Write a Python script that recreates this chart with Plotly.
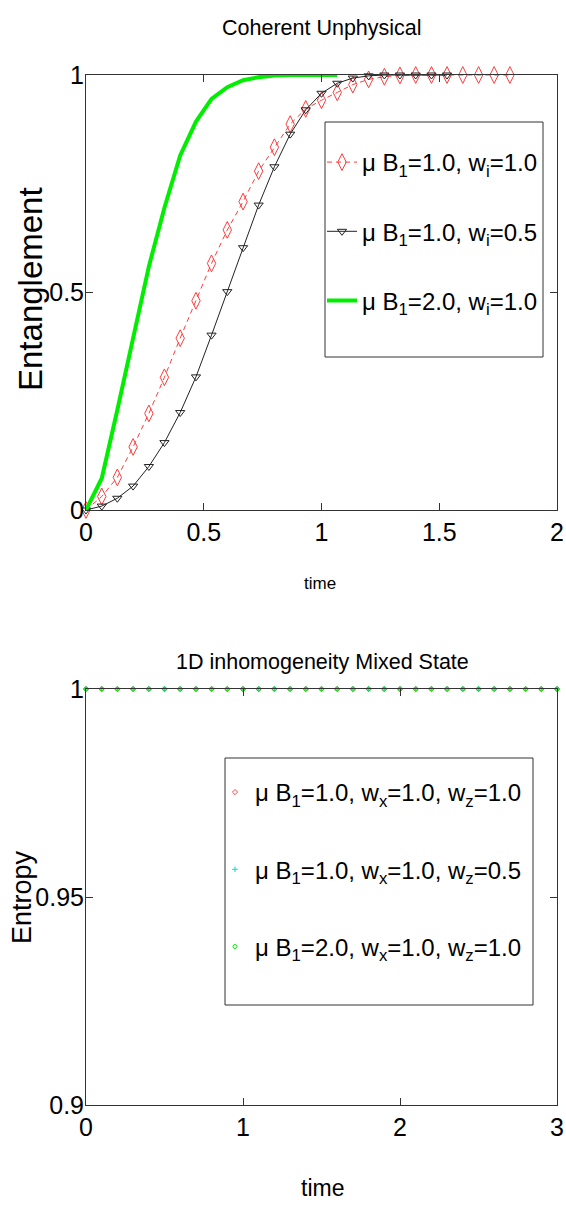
import plotly.graph_objects as go

# ---------------- data: top panel (Coherent Unphysical) ----------------
t_red = [0.0, 0.067, 0.133, 0.2, 0.267, 0.333, 0.4, 0.467, 0.533, 0.6, 0.667, 0.733, 0.8, 0.867,
         0.933, 1.0, 1.067, 1.133, 1.2, 1.267, 1.333, 1.4, 1.467, 1.533, 1.6, 1.667, 1.733, 1.8]
ent_red = [0.0, 0.031, 0.075, 0.145, 0.222, 0.305, 0.395, 0.481, 0.567, 0.644, 0.709, 0.779, 0.834, 0.887,
           0.922, 0.942, 0.960, 0.978, 0.990, 0.996, 0.999, 1.0, 1.0, 1.0, 1.0, 1.0, 1.0, 1.0]

t_black = [0.0, 0.067, 0.133, 0.2, 0.267, 0.333, 0.4, 0.467, 0.533, 0.6, 0.667, 0.733, 0.8, 0.867,
           0.933, 1.0, 1.067, 1.133, 1.2, 1.267, 1.333, 1.4, 1.467, 1.533]
ent_black = [0.0, 0.009, 0.027, 0.055, 0.100, 0.155, 0.224, 0.306, 0.402, 0.502, 0.603, 0.701, 0.789, 0.864,
             0.920, 0.958, 0.981, 0.993, 0.998, 1.0, 1.0, 1.0, 1.0, 1.0]

t_green = [0.0, 0.067, 0.133, 0.2, 0.267, 0.333, 0.4, 0.467, 0.533, 0.6, 0.667, 0.733, 0.8, 0.867,
           0.933, 1.0, 1.067]
ent_green = [0.0, 0.073, 0.230, 0.398, 0.560, 0.695, 0.815, 0.893, 0.945, 0.972, 0.988, 0.995, 0.999, 1.0,
             1.0, 1.0, 1.0]

top_names = ["μ B<sub>1</sub>=1.0, w<sub>i</sub>=1.0",
             "μ B<sub>1</sub>=1.0, w<sub>i</sub>=0.5",
             "μ B<sub>1</sub>=2.0, w<sub>i</sub>=1.0"]
top_xticks = [0, 0.5, 1, 1.5, 2]
top_xticktext = ["0", "0.5", "1", "1.5", "2"]
top_yticks = [0, 0.5, 1]
top_yticktext = ["0", "0.5", "1"]

# ---------------- data: bottom panel (1D inhomogeneity Mixed State) ----------------
t_bot = [0.0, 0.1, 0.2, 0.3, 0.4, 0.5, 0.6, 0.7, 0.8, 0.9, 1.0, 1.1, 1.2, 1.3, 1.4, 1.5,
         1.6, 1.7, 1.8, 1.9, 2.0, 2.1, 2.2, 2.3, 2.4, 2.5, 2.6, 2.7, 2.8, 2.9, 3.0]
entr_a = [1.0, 1.0, 1.0, 1.0, 1.0, 1.0, 1.0, 1.0, 1.0, 1.0, 1.0, 1.0, 1.0, 1.0, 1.0, 1.0,
          1.0, 1.0, 1.0, 1.0, 1.0, 1.0, 1.0, 1.0, 1.0, 1.0, 1.0, 1.0, 1.0, 1.0, 1.0]
entr_b = [1.0, 1.0, 1.0, 1.0, 1.0, 1.0, 1.0, 1.0, 1.0, 1.0, 1.0, 1.0, 1.0, 1.0, 1.0, 1.0,
          1.0, 1.0, 1.0, 1.0, 1.0, 1.0, 1.0, 1.0, 1.0, 1.0, 1.0, 1.0, 1.0, 1.0, 1.0]
entr_c = [1.0, 1.0, 1.0, 1.0, 1.0, 1.0, 1.0, 1.0, 1.0, 1.0, 1.0, 1.0, 1.0, 1.0, 1.0, 1.0,
          1.0, 1.0, 1.0, 1.0, 1.0, 1.0, 1.0, 1.0, 1.0, 1.0, 1.0, 1.0, 1.0, 1.0, 1.0]

bot_names = ["μ B<sub>1</sub>=1.0, w<sub>x</sub>=1.0, w<sub>z</sub>=1.0",
             "μ B<sub>1</sub>=1.0, w<sub>x</sub>=1.0, w<sub>z</sub>=0.5",
             "μ B<sub>1</sub>=2.0, w<sub>x</sub>=1.0, w<sub>z</sub>=1.0"]
bot_xticks = [0, 1, 2, 3]
bot_xticktext = ["0", "1", "2", "3"]
bot_yticks = [0.9, 0.95, 1.0]
bot_yticktext = ["0.9", "0.95", "1"]

# ---------------- styling ----------------
W, H = 566, 1207
FONT = "Liberation Sans, Arial, Helvetica, sans-serif"
AX = "#333333"


def px_x(p):
    return p / W


def px_y(p):
    return 1 - p / H


fig = go.Figure()

# top traces
fig.add_trace(go.Scatter(
    x=t_red, y=ent_red, name=top_names[0], mode="lines+markers", cliponaxis=False,
    line=dict(color="#ff3b3b", width=1, dash="5px,4px"),
    marker=dict(symbol="diamond-tall-open", size=12, color="#ff3b3b", line=dict(width=1)),
    xaxis="x", yaxis="y", legend="legend", legendgroup="a"))
fig.add_trace(go.Scatter(
    x=t_black, y=ent_black, name=top_names[1], mode="lines+markers", cliponaxis=False,
    line=dict(color="#222222", width=1),
    marker=dict(symbol="triangle-down-open", size=8, color="#222222", line=dict(width=1)),
    xaxis="x", yaxis="y", legend="legend", legendgroup="b"))
fig.add_trace(go.Scatter(
    x=t_green, y=ent_green, name=top_names[2], mode="lines", cliponaxis=False,
    line=dict(color="#00ee00", width=4),
    xaxis="x", yaxis="y", legend="legend", legendgroup="c"))

# bottom traces
fig.add_trace(go.Scatter(
    x=t_bot, y=entr_a, name=bot_names[0], mode="markers", cliponaxis=False,
    marker=dict(symbol="diamond-open", size=4, color="#ff4040", line=dict(width=1)),
    xaxis="x2", yaxis="y2", legend="legend2", legendgroup="d"))
fig.add_trace(go.Scatter(
    x=t_bot, y=entr_b, name=bot_names[1], mode="markers", cliponaxis=False,
    marker=dict(symbol="cross-thin-open", size=4, color="#00dddd", line=dict(width=1)),
    xaxis="x2", yaxis="y2", legend="legend2", legendgroup="e"))
fig.add_trace(go.Scatter(
    x=t_bot, y=entr_c, name=bot_names[2], mode="markers", cliponaxis=False,
    marker=dict(symbol="circle-open", size=4, color="#00ee00", line=dict(width=1)),
    xaxis="x2", yaxis="y2", legend="legend2", legendgroup="f"))

axis_common = dict(showline=True, linecolor=AX, linewidth=1, mirror="ticks", ticks="inside",
                   ticklen=7, tickcolor=AX, showgrid=False, zeroline=False, automargin=False,
                   tickfont=dict(family=FONT, size=25, color="black"))

x_dom = [px_x(86), px_x(557)]
fig.update_layout(
    template="none",
    width=W, height=H, margin=dict(l=0, r=0, t=0, b=0, autoexpand=False),
    paper_bgcolor="white", plot_bgcolor="white",
    xaxis=dict(domain=x_dom, range=[0, 2], tickvals=top_xticks, ticktext=top_xticktext,
               anchor="y", **axis_common),
    yaxis=dict(domain=[px_y(510), px_y(75)], range=[0, 1], tickvals=top_yticks,
               ticktext=top_yticktext, anchor="x", ticklabelstandoff=-4, **axis_common),
    xaxis2=dict(domain=x_dom, range=[0, 3], tickvals=bot_xticks, ticktext=bot_xticktext,
                anchor="y2", **axis_common),
    yaxis2=dict(domain=[px_y(1105), px_y(689)], range=[0.9, 1.0], tickvals=bot_yticks,
                ticktext=bot_yticktext, anchor="x2", ticklabelstandoff=-4, **axis_common),
    legend=dict(x=px_x(322), y=px_y(140), xanchor="left", yanchor="top",
                bgcolor="rgba(0,0,0,0)", borderwidth=0,
                font=dict(family=FONT, size=24, color="black"),
                traceorder="grouped", tracegroupgap=35, itemwidth=30),
    legend2=dict(x=px_x(215), y=px_y(770), xanchor="left", yanchor="top",
                 bgcolor="rgba(0,0,0,0)", borderwidth=0,
                 font=dict(family=FONT, size=24, color="black"),
                 traceorder="grouped", tracegroupgap=43, itemwidth=30),
    showlegend=True,
    shapes=[
        dict(type="rect", xref="paper", yref="paper", layer="above",
             x0=px_x(325), x1=px_x(543), y0=px_y(357), y1=px_y(122),
             line=dict(color=AX, width=1), fillcolor="white"),
        dict(type="rect", xref="paper", yref="paper", layer="above",
             x0=px_x(225), x1=px_x(533), y0=px_y(1005), y1=px_y(758),
             line=dict(color=AX, width=1), fillcolor="white"),
    ],
)

annots = [
    dict(text="Coherent Unphysical", x=px_x(322), y=px_y(28), font=dict(family=FONT, size=21.5)),
    dict(text="1D inhomogeneity Mixed State", x=px_x(322), y=px_y(662), font=dict(family=FONT, size=21.5)),
    dict(text="time", x=px_x(320), y=px_y(583), font=dict(family=FONT, size=17)),
    dict(text="time", x=px_x(322), y=px_y(1188), font=dict(family=FONT, size=23)),
    dict(text="Entanglement", x=px_x(30), y=px_y(289), textangle=-90, font=dict(family=FONT, size=33)),
    dict(text="Entropy", x=px_x(22), y=px_y(897), textangle=-90, font=dict(family=FONT, size=27)),
]
for a in annots:
    a.update(xref="paper", yref="paper", xanchor="center", yanchor="middle", showarrow=False)
    a["font"]["color"] = "black"
fig.update_layout(annotations=annots)

fig.write_html("out.html")
